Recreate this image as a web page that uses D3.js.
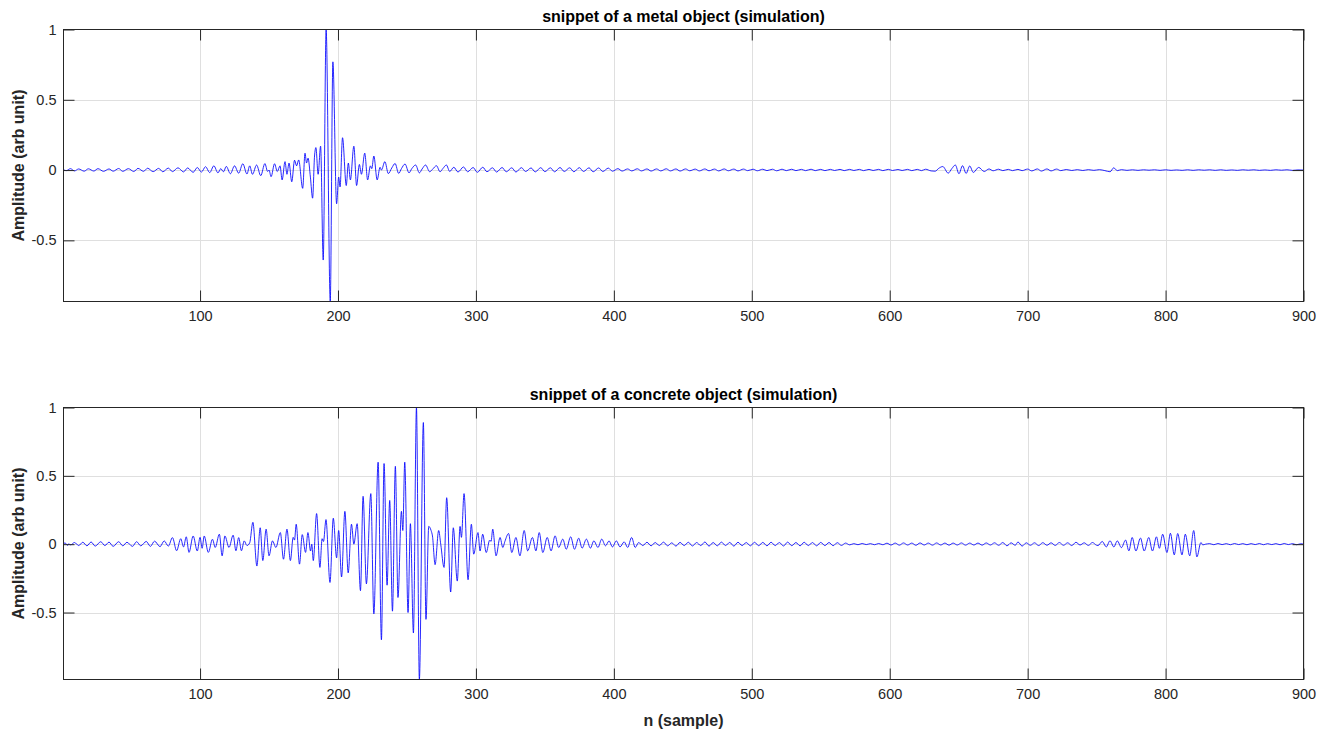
<!DOCTYPE html>
<html><head><meta charset="utf-8">
<script src="https://cdn.jsdelivr.net/npm/d3@7"></script>
<style>body{margin:0;background:#fff;} svg{display:block;font-family:Arial,"Liberation Sans",Helvetica,sans-serif;}</style>
</head><body><svg id="chart" width="1333" height="735"></svg>
<script>
const xDomain = [1, 900];
const xTicks = [100, 200, 300, 400, 500, 600, 700, 800, 900];
const yTicks = [-0.5, 0, 0.5, 1];
const yTickLabels = ["-0.5", "0", "0.5", "1"];
const metalYDomain = [-0.935, 1];
const concreteYDomain = [-0.99, 1];
const titles = ["snippet of a metal object (simulation)", "snippet of a concrete object (simulation)"];
const yLabel = "Amplitude (arb unit)";
const xLabel = "n (sample)";

// [sample n, amplitude] read at the turning points of the trace
const metalSamples = [
[1,0.003],[3,-0.004],[6,0.010],[9,-0.006],[12,0.008],[16,-0.008],[19,0.009],[23,-0.007],[26,0.010],[30,-0.009],[34,0.008],[37,-0.008],[41,0.011],[44,-0.009],[48,0.010],[52,-0.010],[55,0.012],[59,-0.009],[62,0.013],[66,-0.011],[70,0.012],[73,-0.012],[77,0.014],[80,-0.011],[84,0.016],[88,-0.013],[91,0.015],[95,-0.016],[98,0.018],[101,-0.014],
[104,0.024],[107,-0.018],[110,0.030],[113,-0.020],[115,0.010],[117,-0.012],[119,0.026],[122,-0.026],[125,0.030],[128,-0.022],[131,0.045],[134,-0.028],[136,0.030],[138,-0.030],[141,0.036],[144,-0.040],[147,0.046],[149,-0.010],[150,0.000],[151.5,-0.047],[154,0.045],[156,-0.010],[158,0.030],[159.5,-0.070],[161.6,0.060],[163,-0.030],[164.5,0.050],[166.5,-0.083],[168.5,0.070],[170,0.030],[171.5,0.072],[174.4,-0.130],[176.1,0.120],[177.2,0.050],[178.3,0.085],[180,-0.050],[181.6,-0.200],[183,0.100],[184,0.160],[185.6,-0.030],[187.4,0.170],
[189.3,-0.640],[191.4,1.000],[194.4,-0.935],[196.3,0.770],[199,-0.240],[200.5,-0.050],[201.5,-0.120],[203.3,0.230],[206,-0.110],[207.5,0.050],[209,-0.070],[211.5,0.170],[213.5,-0.110],[215.5,0.040],[217,-0.030],[219.4,0.120],[221.5,-0.070],[223.5,0.030],[224.5,0.010],[226,0.100],[228.4,-0.070],[230.5,0.020],[231.5,0.000],[234,0.060],[236.5,-0.025],[239,0.015],[241.4,0.047],[244,-0.024],[246,0.010],[248.6,0.043],[251.5,-0.020],[253.5,0.010],[256.3,0.036],[259,-0.020],[261,0.008],[263.5,0.036],[266.5,-0.012],[268.5,0.005],[271.4,0.031],[274,-0.012],[276,0.010],[278.6,0.036],[281,-0.010],
[284,0.020],[287,-0.014],[291,0.022],[294,-0.012],[298,0.018],[301,-0.016],[305,0.020],[308,-0.012],[312,0.016],[315,-0.014],[319,0.018],[322,-0.012],[326,0.016],[329,-0.014],[333,0.017],[336,-0.010],[340,0.015],[343,-0.013],[347,0.017],[350,-0.011],[354,0.016],[357,-0.012],[361,0.018],[364,-0.010],[368,0.016],[371,-0.012],[375,0.017],[378,-0.010],[382,0.016],[385,-0.012],[389,0.015],[392,-0.010],[396,0.014],[399,-0.008],
[403,0.010],[406,-0.007],[410,0.008],[413,-0.006],[417,0.009],[420,-0.006],[424,0.008],[427,-0.007],[431,0.008],[434,-0.006],[438,0.009],[441,-0.006],[445,0.008],[448,-0.007],[452,0.008],[455,-0.005],[459,0.007],[462,-0.006],[466,0.008],[469,-0.005],[473,0.007],[476,-0.006],[480,0.008],[483,-0.005],[487,0.007],[490,-0.006],[494,0.007],[497,-0.004],[501,0.006],[504,-0.005],[508,0.006],[511,-0.004],[515,0.006],[518,-0.005],[522,0.006],[525,-0.004],[529,0.006],[532,-0.004],[536,0.005],[539,-0.004],[543,0.006],[546,-0.004],[550,0.005],[553,-0.004],[557,0.005],[560,-0.003],[564,0.005],[567,-0.004],[571,0.005],[574,-0.003],[578,0.005],[581,-0.004],[585,0.005],[588,-0.003],[592,0.005],[595,-0.004],
[599,0.005],[602,-0.003],[606,0.004],[609,-0.003],[613,0.005],[616,-0.004],[620,0.005],[623,-0.004],[626,0.006],[630,-0.006],[633,-0.008],[635.5,0.012],[638.5,0.025],[642.4,-0.022],[645,0.010],[647.6,0.036],[650.2,-0.026],[652.8,0.031],[655.4,-0.024],[658,0.029],[660.6,-0.017],[664.5,0.019],[668.5,-0.010],[672,0.008],[675,-0.005],[679,0.006],[682,-0.004],[686,0.005],[689,-0.004],[693,0.005],[696,-0.004],[700,0.007],[703,-0.006],[707,0.008],[710,-0.007],[714,0.008],[717,-0.006],[721,0.007],[724,-0.004],[728,0.004],[732,-0.003],[736,0.003],[740,-0.003],[744,0.003],[748,-0.002],[752,0.003],[756,-0.004],[759.8,-0.012],[762.4,0.016],[765,-0.004],[768,0.003],[772,-0.002],
[776,0.002],[780,-0.002],[784,0.002],[788,-0.001],[792,0.002],[796,-0.002],[800,0.002],[804,-0.002],[808,0.001],[812,-0.002],[816,0.002],[820,-0.002],[824,0.002],[828,-0.001],[832,0.002],[836,-0.002],[840,0.002],[844,-0.002],[848,0.001],[852,-0.002],[856,0.002],[860,-0.001],[864,0.002],[868,-0.002],[872,0.001],[876,-0.002],[880,0.002],[884,-0.001],[888,0.002],[892,-0.002],[896,0.001],[900,0.000]
];

const concreteSamples = [
[1,0.000],[2,0.010],[4,-0.008],[5,0.004],[6,-0.006],[9,0.012],[12,-0.010],[15,0.014],[18,-0.012],[21,0.016],[24,-0.014],[28,0.018],[31,-0.010],[34,0.015],[37,-0.016],[41,0.018],[44,-0.012],[47,0.014],[51,-0.016],[54,0.018],[57,-0.012],[61,0.020],[64,-0.016],[67,0.022],[71,-0.018],[74,0.024],[77,-0.014],
[80,0.048],[83,-0.048],[86,0.040],[88,-0.020],[90,0.054],[92,-0.060],[95,0.060],[98,-0.050],[100,0.050],[101.5,-0.030],[103,0.060],[106,-0.060],[109,0.036],[111,-0.024],[114,0.073],[116,-0.085],[118,0.060],[121,-0.024],[124,0.066],[126,-0.048],[128,0.048],[130,-0.048],[132,0.024],[134,-0.010],[136,0.010],
[138.3,0.160],[141.2,-0.160],[143.6,0.120],[145.5,-0.120],[147.9,0.110],[150,-0.085],[152.5,0.024],[155,-0.024],[158.2,0.085],[160.5,-0.110],[163,0.110],[165.5,-0.120],[167.5,0.050],[168.5,0.030],[169.7,0.146],[172.1,-0.146],[174.1,0.070],[176.5,-0.060],[178.2,0.085],[180.1,-0.050],[181,0.000],[182.1,-0.120],[184.5,0.224],[186.9,-0.170],[188.5,0.040],[189.5,0.020],[191.3,0.180],[194.2,-0.280],[196.6,0.190],[199,-0.100],[200.5,0.100],[202.6,-0.240],[205,0.240],[207.4,-0.210],[209.8,0.146],[211.5,0.000],[213.9,0.150],[216.3,-0.340],[218.2,0.350],[220.6,-0.290],[223.8,0.370],[226,-0.510],[229.1,0.600],[231.5,-0.700],[233.4,0.590],[235.6,-0.300],[237.5,0.320],[239.5,-0.490],[241.6,0.570],[243.5,-0.390],[246,0.240],[247,0.100],[248.4,0.600],[250.8,-0.500],[252.5,0.150],[254.7,-0.650],[256.9,1.000],[259,-0.990],[261.9,0.890],[263.8,-0.550],[265.8,0.130],[267.5,0.100],[268.5,0.060],[270.4,-0.150],[273,0.100],[274.5,0.000],[276.9,-0.170],[278.8,0.340],[281.7,-0.350],[283.6,0.120],[286.5,-0.270],[288.5,0.130],[289.5,0.050],[291.4,0.370],[294.3,-0.260],[296.7,0.146],[298.4,-0.073],[301.5,0.085],[303,-0.050],
[304.9,0.073],[307.5,-0.061],[310,0.030],[311,0.020],[312.2,0.110],[314.6,-0.085],[317.5,0.049],[319.5,-0.024],[321,0.020],[323.7,0.078],[326,-0.061],[329,0.049],[331.9,-0.085],[335,0.100],[337.5,-0.049],[341,0.049],[343.5,-0.049],[345.9,0.085],[348.5,-0.061],[351.7,0.049],[354.5,-0.049],[357.4,0.061],[360,-0.024],[363,0.037],[365.5,-0.037],[368.7,0.054],[371.5,-0.037],[374.5,0.044],[377,-0.029],[380.1,0.037],[383,-0.029],[385.5,0.024],[388.5,-0.024],[391.2,0.037],[394,-0.012],[396.5,0.024],[399,-0.020],[401.8,0.024],[404.5,-0.020],[407.5,0.017],[410,-0.024],[412.9,0.049],[415.5,-0.024],
[418,0.012],[421,-0.010],[424,0.014],[427,-0.012],[430,0.012],[433,-0.010],[436,0.015],[439,-0.012],[442,0.010],[445,-0.014],[448,0.013],[451,-0.010],[454,0.014],[457,-0.013],[460,0.012],[463,-0.010],[466,0.016],[469,-0.014],[472,0.012],[475,-0.012],[478,0.015],[481,-0.010],[484,0.013],[487,-0.014],[490,0.014],[493,-0.010],[496,0.012],[499,-0.012],[502,0.014],[505,-0.011],[508,0.013],[511,-0.012],[514,0.014],[517,-0.010],[520,0.012],[523,-0.013],[526,0.015],[529,-0.011],[532,0.012],[535,-0.012],[538,0.014],[541,-0.010],[544,0.012],[547,-0.012],[550,0.013],[553,-0.010],[556,0.012],[559,-0.011],[562,0.011],[565,-0.009],[568,0.008],[571,-0.005],[574,0.004],[577,-0.004],[580,0.005],[583,-0.003],[586,0.004],[589,-0.004],[592,0.005],[595,-0.004],[598,0.007],[601,-0.006],[604,0.008],[607,-0.007],[610,0.009],[613,-0.006],[616,0.008],[619,-0.008],[622,0.009],[625,-0.006],[628,0.008],[631,-0.007],[634,0.009],[637,-0.006],[640,0.008],[643,-0.007],[646,0.008],[649,-0.006],[652,0.009],[655,-0.007],[658,0.008],[661,-0.006],[664,0.008],[667,-0.007],[670,0.009],[673,-0.006],[676,0.010],[679,-0.008],[682,0.012],[685,-0.012],[688,0.010],[691,-0.008],[693,0.016],[696,-0.014],[699,0.010],[702,-0.008],[705,0.010],[708,-0.010],[711,0.011],[714,-0.008],[717,0.010],[720,-0.009],[723,0.012],[726,-0.008],[729,0.010],[732,-0.010],[735,0.014],[738,-0.006],[741,0.010],[744,-0.009],[747,0.012],[750,-0.008],
[751,-0.010],[754.1,0.020],[757,-0.020],[759.7,0.025],[762.5,-0.020],[765,0.024],[768,-0.025],[771,0.030],[773.4,-0.049],[775.8,0.049],[778.5,-0.050],[781.8,0.045],[784.5,-0.050],[787.8,0.049],[790.5,-0.050],[793.4,0.054],[795.5,-0.030],[797.9,0.073],[801,-0.061],[803.5,0.080],[806.3,-0.078],[808.8,0.078],[811.9,-0.078],[814.3,0.073],[817.5,-0.085],[820.4,0.100],[822.7,-0.093],[825.6,0.012],[827,-0.005],[829,0.000],
[832,0.004],[835,-0.004],[838,0.005],[841,-0.003],[844,0.004],[847,-0.004],[850,0.005],[853,-0.003],[856,0.004],[859,-0.004],[862,0.004],[865,-0.003],[868,0.005],[871,-0.004],[874,0.004],[877,-0.003],[880,0.004],[883,-0.004],[886,0.005],[889,-0.003],[892,0.004],[895,-0.004],[898,0.003],[900,0.000]
];

const svg = d3.select("#chart");
const left = 63.5, right = 1303.5;
const panels = [
  {top: 29.5, bottom: 301.5, data: metalSamples, yd: metalYDomain, title: titles[0], titleY: 22},
  {top: 407.5, bottom: 679.5, data: concreteSamples, yd: concreteYDomain, title: titles[1], titleY: 400}
];
const tickCol = "#262626";
const fmt = d => yTickLabels[yTicks.indexOf(d)];

panels.forEach((p, i) => {
  const x = d3.scaleLinear().domain(xDomain).range([left, right]);
  const y = d3.scaleLinear().domain(p.yd).range([p.bottom, p.top]);
  const g = svg.append("g");
  const cx = v => Math.round(x(v)) + 0.5;
  const cy = v => Math.round(y(v)) + 0.5;

  // grid
  g.append("g").selectAll("line").data(xTicks).join("line")
    .attr("x1", cx).attr("x2", cx).attr("y1", p.top).attr("y2", p.bottom)
    .attr("stroke", "#dfdfdf").attr("stroke-width", 1);
  g.append("g").selectAll("line").data(yTicks.filter(t => t > p.yd[0] && t < p.yd[1])).join("line")
    .attr("y1", cy).attr("y2", cy).attr("x1", left).attr("x2", right)
    .attr("stroke", "#dfdfdf").attr("stroke-width", 1);

  // data line
  const clipId = "clip" + i;
  svg.append("clipPath").attr("id", clipId).append("rect")
    .attr("x", left).attr("y", p.top).attr("width", right - left).attr("height", p.bottom - p.top);
  const line = d3.line().x(d => x(d[0])).y(d => y(d[1])).curve(d3.curveMonotoneX);
  g.append("path").datum(p.data).attr("clip-path", `url(#${clipId})`)
    .attr("d", line).attr("fill", "none").attr("stroke", "#0000ff").attr("stroke-width", 0.85);

  // axes (ticks inside, MATLAB style)
  const xb = d3.axisBottom(x).tickValues(xTicks).tickSizeInner(-11).tickSizeOuter(0).tickPadding(9).tickFormat(d3.format("d"));
  const xt = d3.axisTop(x).tickValues(xTicks).tickSizeInner(-11).tickSizeOuter(0).tickFormat("");
  const yl = d3.axisLeft(y).tickValues(yTicks).tickSizeInner(-11).tickSizeOuter(0).tickPadding(7).tickFormat(fmt);
  const yr = d3.axisRight(y).tickValues(yTicks).tickSizeInner(-11).tickSizeOuter(0).tickFormat("");
  const style = sel => {
    sel.select(".domain").remove();
    sel.selectAll("line").attr("stroke", tickCol);
    sel.selectAll("text").attr("fill", tickCol).style("font-size", "14.5px").style("font-family", "Arial, 'Liberation Sans', Helvetica, sans-serif");
  };
  g.append("g").attr("transform", `translate(0,${p.bottom})`).call(xb).call(style);
  g.append("g").attr("transform", `translate(0,${p.top})`).call(xt).call(style);
  g.append("g").attr("transform", `translate(${left},0)`).call(yl).call(style);
  g.append("g").attr("transform", `translate(${right},0)`).call(yr).call(style);

  // box
  g.append("rect").attr("x", left).attr("y", p.top).attr("width", right - left).attr("height", p.bottom - p.top)
    .attr("fill", "none").attr("stroke", tickCol).attr("stroke-width", 1);

  // title
  svg.append("text").attr("x", (left + right) / 2).attr("y", p.titleY).attr("text-anchor", "middle")
    .attr("font-weight", "bold").attr("font-size", "16px").attr("fill", "#000").text(p.title);

  // y label
  svg.append("text").attr("transform", `translate(24,${(p.top + p.bottom) / 2}) rotate(-90)`)
    .attr("text-anchor", "middle").attr("font-weight", "bold").attr("font-size", "16px").attr("fill", tickCol).text(yLabel);
});

svg.append("text").attr("x", (left + right) / 2).attr("y", 726).attr("text-anchor", "middle")
  .attr("font-weight", "bold").attr("font-size", "16px").attr("fill", tickCol).text(xLabel);
</script>
</body></html>
